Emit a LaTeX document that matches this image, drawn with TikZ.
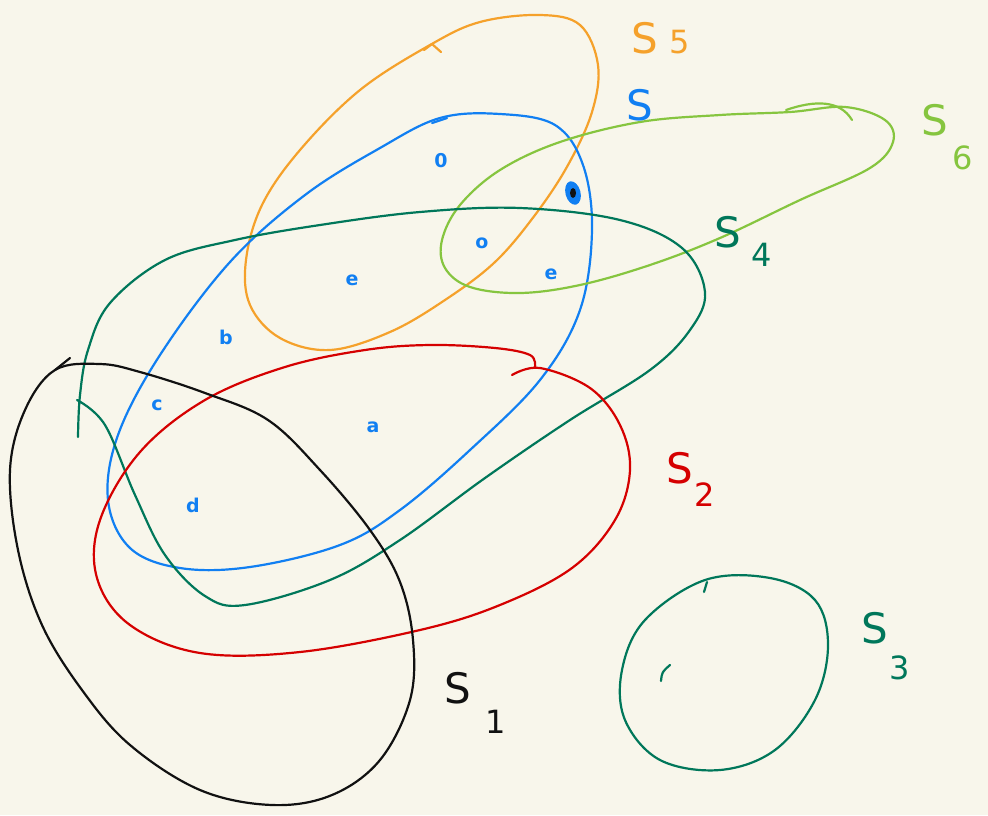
\documentclass[tikz,border=0pt]{standalone}
\usepackage{fontspec}
\setmainfont{DejaVu Sans}
\usepackage{xcolor}
\usepackage{tikz}
\usetikzlibrary{shapes.geometric}
\definecolor{sketchPaper}{HTML}{F8F6EB}
\definecolor{sketchOrange}{HTML}{F5A12B}
\definecolor{sketchBlue}{HTML}{117FF2}
\definecolor{sketchLime}{HTML}{86C53F}
\definecolor{sketchTeal}{HTML}{00775A}
\definecolor{sketchRed}{HTML}{D50000}
\definecolor{sketchInk}{HTML}{111111}
\tikzset{
  setline/.style={line width=2.2pt, line cap=round, line join=round},
  setlabel/.style={font=\fontsize{42}{42}\selectfont, inner sep=0pt},
  sublabel/.style={font=\fontsize{32}{32}\selectfont, inner sep=0pt},
  elemlabel/.style={font=\bfseries\fontsize{19}{19}\selectfont,
    text=sketchBlue, inner sep=0pt},
  blob/.style={ellipse, fill=sketchBlue, minimum width=15pt,
    minimum height=24pt, inner sep=0pt, rotate=15},
}
\begin{document}
\begin{tikzpicture}[x=1pt, y=-1pt]
    \fill[sketchPaper] (0,0) rectangle (988,815);
    \useasboundingbox (0,0) rectangle (988,815);
    \draw[setline, sketchOrange] plot[smooth cycle, tension=0.6] coordinates
      {(430,45) (480,22) (540,15) (580,25) (598,65) (592,112) (568,165)
       (535,215) (495,262) (445,300) (390,332) (330,350) (280,338)
       (250,305) (246,260) (262,205) (300,150) (360,90)};
    \draw[setline, sketchOrange] (424,50) -- (432,44) -- (441,52);
    \draw[setline, sketchBlue] plot[smooth cycle, tension=0.6] coordinates
      {(440,118) (500,114) (555,125) (583,165) (592,230) (580,310)
       (540,380) (470,450) (400,510) (340,545) (250,567) (180,568)
       (130,548) (108,500) (118,435) (160,355) (230,262) (305,195)
       (380,148)};
    \draw[setline, sketchBlue] (432,123) -- (447,118);
    \draw[setline, sketchLime] plot[smooth cycle, tension=0.6] coordinates
      {(790,112) (845,107) (885,120) (893,142) (870,168) (800,200)
       (720,238) (650,265) (580,285) (520,293) (470,287) (445,268)
       (442,240) (460,205) (500,170) (560,142) (640,122) (720,115)};
    \draw[setline, sketchLime] (786,110) .. controls (815,100) and (840,100) .. (852,120);
    \draw[setline, sketchTeal] plot[smooth, tension=0.6] coordinates
      {(78,437) (80,395) (88,350) (110,303) (165,260) (235,240) (320,225)
       (420,212) (520,208) (620,220) (682,248) (705,292) (690,330)
       (650,370) (570,420) (485,478) (400,540) (330,580) (245,605)
       (205,596) (165,555) (135,495) (105,425) (77,400)};
    \draw[setline, sketchRed] plot[smooth, tension=0.6] coordinates
      {(512,375) (540,368) (590,388) (620,425) (630,470) (615,520)
       (572,568) (500,605) (420,630) (300,652) (200,653) (130,625)
       (97,578) (100,520) (140,452) (205,400) (285,367) (365,350)
       (430,345) (495,348) (530,355) (535,367)};
    \draw[setline, sketchInk] plot[smooth cycle, tension=0.6] coordinates
      {(55,370) (25,410) (10,470) (18,550) (42,625) (82,690) (130,745)
       (200,790) (272,805) (332,795) (380,760) (410,700) (413,640)
       (400,582) (370,530) (320,470) (268,420) (205,393) (140,372)
       (100,364)};
    \draw[setline, sketchInk] (70,358) -- (55,370);
    \draw[setline, sketchTeal] plot[smooth cycle, tension=0.6] coordinates
      {(705,580) (770,578) (815,600) (828,645) (815,700) (775,750)
       (720,770) (660,760) (625,720) (622,670) (645,620)};
    \draw[setline, sketchTeal] (704,592) -- (707,582);
    \draw[setline, sketchTeal] (670,665) .. controls (662,672) .. (661,681);
    \node[elemlabel] (zeroPt) at (441,161) {0};
    \node[blob] (dotPt) at (573,193) {};
    \fill[sketchInk] (dotPt.center) ellipse (3pt and 5pt);
    \node[elemlabel] (oPt) at (482,243) {o};
    \node[elemlabel] (ePtR) at (551,274) {e};
    \node[elemlabel] (ePtL) at (352,280) {e};
    \node[elemlabel] (bPt) at (226,337) {b};
    \node[elemlabel] (cPt) at (157,405) {c};
    \node[elemlabel] (aPt) at (373,427) {a};
    \node[elemlabel] (dPt) at (193,505) {d};
    \node[setlabel, text=sketchOrange] (labFive) at (645,38) {S};
    \node[sublabel, text=sketchOrange] (subFive) at (680,42) {5};
    \node[setlabel, text=sketchBlue] (labBlue) at (640,105) {S};
    \node[setlabel, text=sketchLime] (labSix) at (935,120) {S};
    \node[sublabel, text=sketchLime] (subSix) at (963,158) {6};
    \node[setlabel, text=sketchTeal] (labFour) at (728,232) {S};
    \node[sublabel, text=sketchTeal] (subFour) at (762,255) {4};
    \node[setlabel, text=sketchRed] (labTwo) at (680,468) {S};
    \node[sublabel, text=sketchRed] (subTwo) at (705,495) {2};
    \node[setlabel, text=sketchTeal] (labThree) at (875,628) {S};
    \node[sublabel, text=sketchTeal] (subThree) at (900,668) {3};
    \node[setlabel, text=sketchInk] (labOne) at (458,688) {S};
    \node[sublabel, text=sketchInk] (subOne) at (496,722) {1};
\end{tikzpicture}
\end{document}
